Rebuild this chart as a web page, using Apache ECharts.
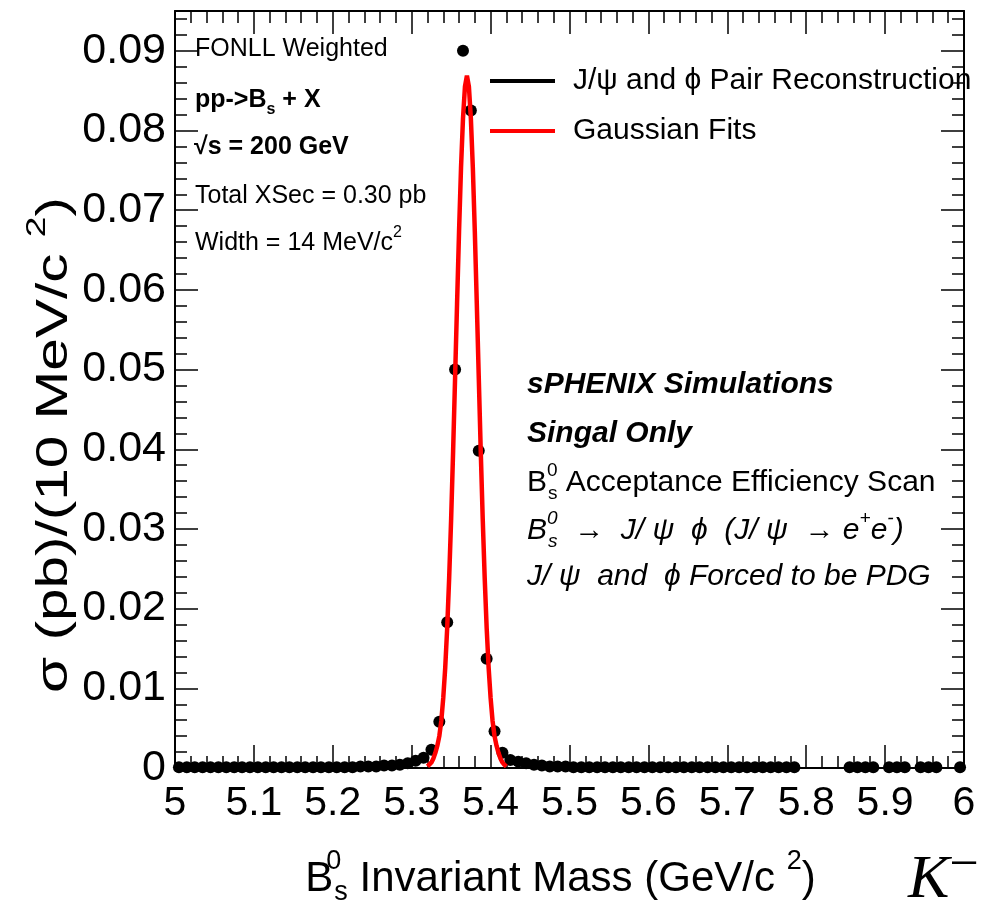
<!DOCTYPE html>
<html>
<head>
<meta charset="utf-8">
<script src="https://cdn.jsdelivr.net/npm/echarts@6/dist/echarts.min.js"></script>
<style>
  html, body { margin: 0; padding: 0; background: #fff; }
  #chart { width: 987px; height: 904px; }
</style>
</head>
<body>
<div id="chart"></div>
<script>
// Bs0 candidate mass spectrum: 10 MeV bins between 5 and 6 GeV/c^2
const massCenters = [
  5.005, 5.015, 5.025, 5.035, 5.045, 5.055, 5.065, 5.075, 5.085, 5.095,
  5.105, 5.115, 5.125, 5.135, 5.145, 5.155, 5.165, 5.175, 5.185, 5.195,
  5.205, 5.215, 5.225, 5.235, 5.245, 5.255, 5.265, 5.275, 5.285, 5.295,
  5.305, 5.315, 5.325, 5.335, 5.345, 5.355, 5.365, 5.375, 5.385, 5.395,
  5.405, 5.415, 5.425, 5.435, 5.445, 5.455, 5.465, 5.475, 5.485, 5.495,
  5.505, 5.515, 5.525, 5.535, 5.545, 5.555, 5.565, 5.575, 5.585, 5.595,
  5.605, 5.615, 5.625, 5.635, 5.645, 5.655, 5.665, 5.675, 5.685, 5.695,
  5.705, 5.715, 5.725, 5.735, 5.745, 5.755, 5.765, 5.775, 5.785, 5.795,
  5.805, 5.815, 5.825, 5.835, 5.845, 5.855, 5.865, 5.875, 5.885, 5.895,
  5.905, 5.915, 5.925, 5.935, 5.945, 5.955, 5.965, 5.975, 5.985, 5.995
];

// cross section per bin in pb; null = empty bin (not drawn)
const xsecPerBin = [
  0.0001, 0.0001, 0.0001, 0.0001, 0.0001, 0.0001, 0.0001, 0.0001, 0.0001, 0.0001,
  0.0001, 0.0001, 0.0001, 0.0001, 0.0001, 0.0001, 0.0001, 0.0001, 0.0001, 0.0001,
  0.0001, 0.0001, 0.0001, 0.0002, 0.0002, 0.0002, 0.0003, 0.0003, 0.0004, 0.0006,
  0.0009, 0.0013, 0.0023, 0.0058, 0.0183, 0.0500, 0.0900, 0.0825, 0.0398, 0.0137,
  0.0046, 0.0019, 0.0010, 0.0008, 0.0006, 0.0004, 0.0003, 0.0002, 0.0002, 0.0002,
  0.0001, 0.0001, 0.0001, 0.0001, 0.0001, 0.0001, 0.0001, 0.0001, 0.0001, 0.0001,
  0.0001, 0.0001, 0.0001, 0.0001, 0.0001, 0.0001, 0.0001, 0.0001, 0.0001, 0.0001,
  0.0001, 0.0001, 0.0001, 0.0001, 0.0001, 0.0001, 0.0001, 0.0001, 0.0001, null,
  null,   null,   null,   null,   null,   0.0001, 0.0001, 0.0001, 0.0001, null,
  0.0001, 0.0001, 0.0001, null,   0.0001, 0.0001, 0.0001, null,   null,   0.0001
];

// Gaussian fit curve, sampled over the fit window
const fitMass = [
  5.3200, 5.3225, 5.3250, 5.3275, 5.3300, 5.3325, 5.3350, 5.3375, 5.3400, 5.3425,
  5.3450, 5.3475, 5.3500, 5.3525, 5.3550, 5.3575, 5.3600, 5.3625, 5.3650, 5.3675,
  5.3700, 5.3725, 5.3750, 5.3775, 5.3800, 5.3825, 5.3850, 5.3875, 5.3900, 5.3925,
  5.3950, 5.3975, 5.4000, 5.4025, 5.4050, 5.4075, 5.4100, 5.4125, 5.4150, 5.4175,
  5.4200
];
const fitValue = [
  0.0002, 0.0004, 0.0007, 0.0012, 0.0019, 0.0028, 0.0040, 0.0059, 0.0088, 0.0126,
  0.0176, 0.0239, 0.0313, 0.0398, 0.0490, 0.0583, 0.0673, 0.0753, 0.0815, 0.0855,
  0.0869, 0.0855, 0.0815, 0.0753, 0.0673, 0.0583, 0.0490, 0.0398, 0.0313, 0.0239,
  0.0176, 0.0126, 0.0088, 0.0059, 0.0040, 0.0028, 0.0019, 0.0012, 0.0007, 0.0004,
  0.0002
];

const massRange = [5, 6];
const massStep = 0.1;
const xsecRange = [0, 0.095];
const xsecStep = 0.01;

const seriesNames = ['J/\u03c8 and \u03d5 Pair Reconstruction', 'Gaussian Fits'];

const FONT = '"Liberation Sans", Arial, Helvetica, sans-serif';
const SERIF = '"Liberation Serif", "DejaVu Serif", serif';

const histPoints = massCenters
  .map((m, i) => [m, xsecPerBin[i]])
  .filter(p => p[1] !== null);
const fitPoints = fitMass.map((m, i) => [m, fitValue[i]]);

const chart = echarts.init(document.getElementById('chart'), null, { renderer: 'canvas' });

const frameLine = { show: true, onZero: false, lineStyle: { color: '#000', width: 2 } };
const majorTick = { show: true, inside: true, length: 23, lineStyle: { color: '#000', width: 1.5 } };
const minorTick = { show: true, splitNumber: 5, length: 12, lineStyle: { color: '#000', width: 1.5 } };

function xAx(position, labels) {
  return {
    type: 'value', position, min: massRange[0], max: massRange[1], interval: massStep,
    axisLine: frameLine, axisTick: majorTick, minorTick,
    splitLine: { show: false }, minorSplitLine: { show: false },
    axisLabel: {
      show: labels, color: '#000', fontFamily: FONT, fontSize: 41, margin: 15,
      showMinLabel: true, showMaxLabel: true, hideOverlap: false
    }
  };
}
function yAx(position, labels) {
  return {
    type: 'value', position, min: xsecRange[0], max: xsecRange[1], interval: xsecStep,
    axisLine: frameLine, axisTick: majorTick, minorTick,
    splitLine: { show: false }, minorSplitLine: { show: false },
    axisLabel: {
      show: labels, color: '#000', fontFamily: FONT, fontSize: 43, margin: 9,
      showMaxLabel: false, hideOverlap: false
    }
  };
}

const xAxisMain = xAx('bottom', true);
xAxisMain.name = '{t|B}{supz|0}{sub|s}{t| Invariant Mass (GeV/c }{sup|2}{t|)}';
xAxisMain.nameLocation = 'middle';
xAxisMain.nameGap = 80;
xAxisMain.nameTextStyle = {
  color: '#000', fontFamily: FONT, fontSize: 42, padding: [0, 18, 0, 0],
  rich: {
    t: { fontFamily: FONT, fontSize: 42, color: '#000', lineHeight: 52, verticalAlign: 'bottom' },
    sup: { fontFamily: FONT, fontSize: 27, color: '#000', lineHeight: 52, verticalAlign: 'top' },
    supz: { fontFamily: FONT, fontSize: 27, color: '#000', lineHeight: 52, verticalAlign: 'top', width: 1 },
    sub: { fontFamily: FONT, fontSize: 27, color: '#000', lineHeight: 52, verticalAlign: 'bottom', padding: [0, 0, -6, 0] }
  }
};

const yAxisMain = yAx('left', true);

function label(left, top, text, size, weight, style, rich) {
  return {
    type: 'text', left, top, z: 50,
    style: {
      text, rich: rich || {},
      fontFamily: FONT, fontSize: size, fontWeight: weight || 'normal', fontStyle: style || 'normal', fill: '#000'
    }
  };
}

function richSet(size, weight, style) {
  const small = Math.round(size * 0.62);
  const lh = Math.round(size * 1.22);
  const base = { fontFamily: FONT, fontWeight: weight, fontStyle: style, fill: '#000', lineHeight: lh };
  return {
    t: Object.assign({}, base, { fontSize: size, verticalAlign: 'bottom' }),
    sup: Object.assign({}, base, { fontSize: small, verticalAlign: 'top' }),
    supz: Object.assign({}, base, { fontSize: small, verticalAlign: 'top', width: 1 }),
    sub: Object.assign({}, base, { fontSize: small, verticalAlign: 'bottom', padding: [0, 0, -5, 0] })
  };
}

const option = {
  backgroundColor: '#fff',
  animation: false,
  grid: { left: 175, right: 23, top: 11, bottom: 136, containLabel: false, outerBoundsMode: 'none' },
  xAxis: [xAxisMain, xAx('top', false)],
  yAxis: [yAxisMain, yAx('right', false)],
  legend: {
    orient: 'vertical', left: 485, top: 61, itemGap: 20,
    itemWidth: 65, itemHeight: 4, icon: 'rect',
    textStyle: { color: '#000', fontFamily: FONT, fontSize: 30, padding: [0, 0, 0, 13] },
    data: [
      { name: seriesNames[0], itemStyle: { color: '#000' } },
      { name: seriesNames[1], itemStyle: { color: '#ff0000' } }
    ]
  },
  series: [
    {
      name: seriesNames[0], type: 'scatter', xAxisIndex: 0, yAxisIndex: 0,
      symbol: 'circle', symbolSize: 12,
      itemStyle: { color: '#000', opacity: 1 },
      data: histPoints, z: 3
    },
    {
      name: seriesNames[1], type: 'line', xAxisIndex: 0, yAxisIndex: 0,
      showSymbol: false, symbol: 'none', smooth: false,
      lineStyle: { color: '#ff0000', width: 4.5 },
      itemStyle: { color: '#ff0000' },
      data: fitPoints, z: 4
    }
  ],
  graphic: [
    // y axis title, stretched along its reading direction
    {
      type: 'text', x: 50, y: 445, rotation: Math.PI / 2, scaleX: 1.33, z: 50,
      style: {
        text: '{t|\u03c3 (pb)/(10 MeV/c }{sup|2}{t|)}',
        align: 'center', verticalAlign: 'middle',
        rich: {
          t: { fontFamily: FONT, fontSize: 44, fill: '#000', lineHeight: 54, verticalAlign: 'bottom' },
          sup: { fontFamily: FONT, fontSize: 28, fill: '#000', lineHeight: 54, verticalAlign: 'top' }
        }
      }
    },

    label(195, 37, 'FONLL Weighted', 25),
    label(195, 88, '{t|pp->B}{sub|s}{t| + X}', 25, 'bold', 'normal', richSet(25, 'bold', 'normal')),
    label(194, 135, '\u221as = 200 GeV', 25, 'bold'),
    label(195, 184, 'Total XSec = 0.30 pb', 25),
    label(195, 225, '{t|Width = 14 MeV/c}{sup|2}', 25, 'normal', 'normal', richSet(25, 'normal', 'normal')),

    label(527, 370, 'sPHENIX Simulations', 30, 'bold', 'italic'),
    label(527, 419, 'Singal Only', 30, 'bold', 'italic'),
    label(527, 461, '{t|B}{supz|0}{sub|s}{t| Acceptance Efficiency Scan}', 30, 'normal', 'normal', richSet(30, 'normal', 'normal')),
    label(527, 509, '{t|B}{supz|0}{sub|s}{t|  \u2192  J/ \u03c8  \u03d5  (J/ \u03c8  \u2192 e}{sup|+}{t|e}{sup|-}{t|)}', 30, 'normal', 'italic', richSet(30, 'normal', 'italic')),
    label(527, 562, 'J/ \u03c8  and  \u03d5 Forced to be PDG', 30, 'normal', 'italic'),

    {
      type: 'text', left: 908, top: 840, z: 50,
      style: {
        text: '{k|K}{m|\u2212}',
        rich: {
          k: { fontFamily: SERIF, fontStyle: 'italic', fontSize: 62, fill: '#000', lineHeight: 62, verticalAlign: 'bottom' },
          m: { fontFamily: SERIF, fontSize: 52, fill: '#000', lineHeight: 62, verticalAlign: 'top', padding: [-10, 0, 0, 0] }
        }
      }
    }
  ]
};

chart.setOption(option);
</script>
</body>
</html>
